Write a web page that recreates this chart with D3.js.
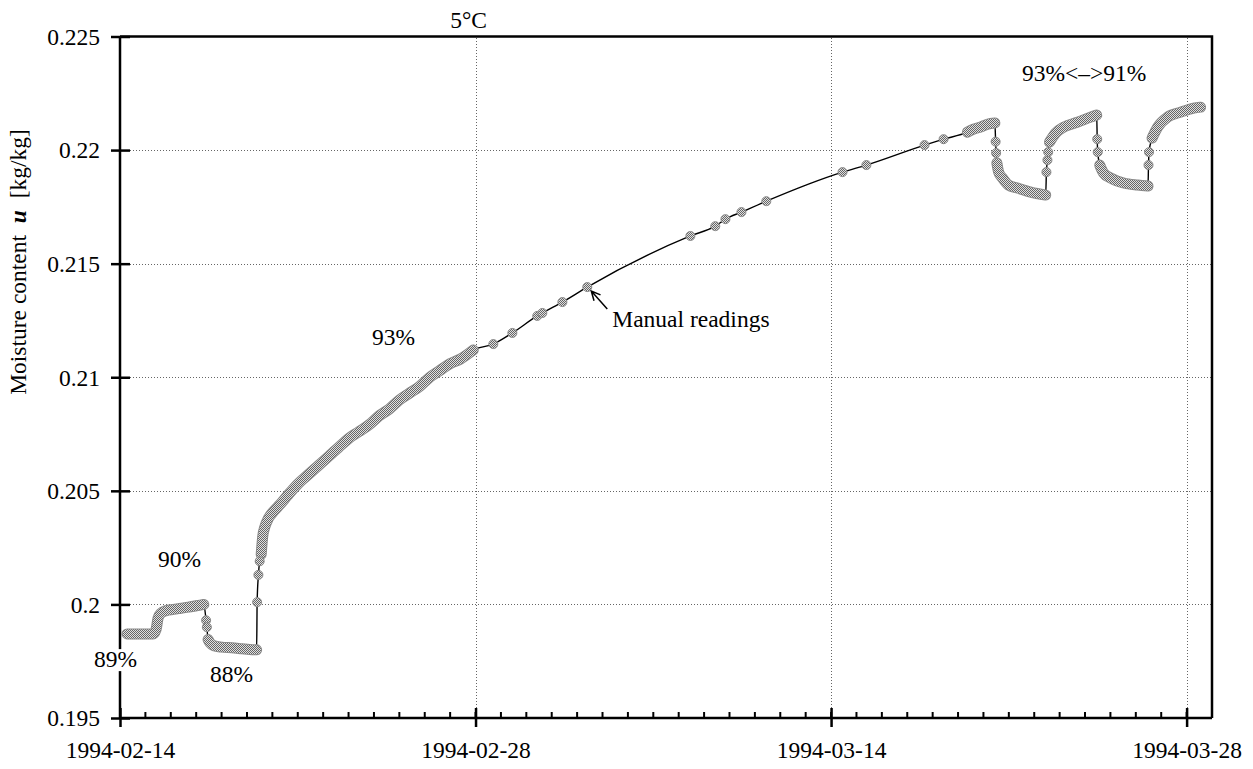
<!DOCTYPE html>
<html><head><meta charset="utf-8">
<script src="https://cdn.jsdelivr.net/npm/d3@7"></script>
<style>body{margin:0;background:#fff}svg{display:block}</style>
</head><body>
<svg id="chart" width="1253" height="769"></svg>
<script>
// ---- data (day offset from 1994-02-14, moisture content u in kg/kg) ----
const startDate = Date.UTC(1994, 1, 14);
const endDate = Date.UTC(1994, 2, 29);
const yTicks = [0.195, 0.2, 0.205, 0.21, 0.215, 0.22, 0.225];
const xTickLabels = ["1994-02-14", "1994-02-28", "1994-03-14", "1994-03-28"];
const gridU = [0.2, 0.205, 0.21, 0.215, 0.22];
const gridDates = ["1994-02-28", "1994-03-14", "1994-03-28"];

const run89to90 = [[0.28,0.1987],[0.6,0.1987],[0.95,0.1987],[1.3,0.1987],[1.42,0.1989],[1.5,0.1994],[1.6,0.1996],[1.8,0.19972],[2.1,0.19978],[2.4,0.19983],[2.7,0.19988],[3.0,0.19994],[3.3,0.2000]];
const run88 = [[3.47,0.19845],[3.55,0.1983],[3.7,0.19818],[4.0,0.19812],[4.4,0.19809],[4.8,0.19805],[5.1,0.19802],[5.38,0.1980]];
const run93 = [[5.56,0.2022],[5.62,0.2030],[5.7,0.2034],[5.85,0.2038],[6.05,0.2041],[6.3,0.2044],[6.6,0.2048],[7.0,0.2053],[7.4,0.2057],[7.8,0.2061],[8.2,0.2065],[8.6,0.2069],[9.0,0.2073],[9.4,0.2076],[9.8,0.2079],[10.2,0.2083],[10.6,0.2086],[11.0,0.2090],[11.4,0.2093],[11.8,0.2096],[12.2,0.2100],[12.6,0.2103],[13.0,0.2106],[13.4,0.2108],[13.91,0.2112]];
const runHigh0 = [[33.37,0.22079],[33.61,0.22092],[33.88,0.22101],[34.16,0.22114],[34.45,0.22119]];
const runLow1 = [[34.53,0.21943],[34.6,0.21903],[34.75,0.21877],[34.99,0.21846],[35.34,0.21833],[35.86,0.21815],[36.45,0.21802]];
const runHigh1 = [[36.6,0.22035],[36.84,0.22075],[37.16,0.22101],[37.71,0.22123],[38.22,0.22145],[38.46,0.22154]];
const runLow2 = [[38.58,0.21934],[38.73,0.21899],[39.01,0.21877],[39.52,0.21855],[40.07,0.21846],[40.48,0.21842]];
const runHigh2 = [[40.64,0.22053],[40.86,0.22101],[41.25,0.22145],[41.77,0.22167],[42.28,0.22185],[42.55,0.22189]];
const transitionPoints = [[3.39,0.1993],[3.42,0.1990],[5.40,0.2001],[5.45,0.2013],[5.5,0.2019],[34.48,0.22037],[34.5,0.21987],[36.48,0.21903],[36.52,0.21956],[36.55,0.21991],[38.48,0.22048],[38.5,0.21991],[40.5,0.21934],[40.52,0.21991]];
const manualReadings = [[14.7,0.21146],[15.45,0.21195],[16.43,0.2127],[16.63,0.21283],[17.42,0.21331],[18.40,0.21397],[22.46,0.21622],[23.44,0.21665],[23.84,0.21696],[24.47,0.21727],[25.45,0.21775],[28.45,0.21903],[29.39,0.21934],[31.68,0.22022],[32.43,0.22048]];

// ---- drawing ----
const FONT = "'Liberation Serif','Times New Roman',serif";
const svg = d3.select("#chart");
const t = d => new Date(startDate + d * 864e5);
const parse = d3.utcParse("%Y-%m-%d");
const x = d3.scaleUtc().domain([new Date(startDate), new Date(endDate)]).range([120, 1212]);
const y = d3.scaleLinear().domain([0.195, 0.225]).range([718, 36.5]);

const defs = svg.append("defs");
const pat = defs.append("pattern").attr("id", "stip").attr("width", 2).attr("height", 2).attr("patternUnits", "userSpaceOnUse");
pat.append("rect").attr("width", 2).attr("height", 2).attr("fill", "#e0e0e0");
pat.append("rect").attr("width", 1).attr("height", 1).attr("fill", "#666");
pat.append("rect").attr("x", 1).attr("y", 1).attr("width", 1).attr("height", 1).attr("fill", "#666");

// grid
const grid = svg.append("g").attr("stroke", "#666").attr("stroke-width", 1).attr("stroke-dasharray", "1,2");
grid.selectAll("line.h").data(gridU).join("line").attr("class", "h")
  .attr("x1", 121).attr("x2", 1211).attr("y1", d => Math.round(y(d)) + 0.5).attr("y2", d => Math.round(y(d)) + 0.5);
grid.selectAll("line.v").data(gridDates).join("line").attr("class", "v")
  .attr("y1", 38).attr("y2", 717).attr("x1", d => Math.round(x(parse(d))) + 0.5).attr("x2", d => Math.round(x(parse(d))) + 0.5);

// black line through all readings
const runs = [run89to90, run88, run93, runHigh0, runLow1, runHigh1, runLow2, runHigh2];
const all = [].concat(...runs, transitionPoints, manualReadings).sort((a, b) => a[0] - b[0]);
const line = d3.line().x(d => x(t(d[0]))).y(d => y(d[1])).curve(d3.curveMonotoneX);
svg.append("path").attr("d", line(all)).attr("fill", "none").attr("stroke", "#000").attr("stroke-width", 1.4);

// dense logged readings (overlapping markers form a band)
const bands = svg.append("g").attr("fill", "none").attr("stroke-linecap", "round").attr("stroke-linejoin", "round");
bands.selectAll("path.o").data(runs).join("path").attr("class", "o").attr("d", line).attr("stroke", "#8a8a8a").attr("stroke-width", 11);
bands.selectAll("path.i").data(runs).join("path").attr("class", "i").attr("d", line).attr("stroke", "url(#stip)").attr("stroke-width", 9);

// sparse markers
svg.append("g").selectAll("circle").data(transitionPoints.concat(manualReadings)).join("circle")
  .attr("cx", d => x(t(d[0]))).attr("cy", d => y(d[1])).attr("r", 4.5)
  .attr("fill", "url(#stip)").attr("stroke", "#8a8a8a").attr("stroke-width", 1);

// axes
const yAxis = svg.append("g").attr("transform", "translate(120,0)")
  .call(d3.axisLeft(y).tickValues(yTicks).tickFormat(d => String(+d.toFixed(3))).tickSizeOuter(0));
yAxis.select(".domain").attr("stroke-width", 2.5).attr("d", "M0,36.5V718");
yAxis.selectAll(".tick line").attr("x1", 10).attr("x2", -9).attr("stroke-width", 2.5);
yAxis.selectAll(".tick text").attr("x", -20).attr("dy", "0.33em").style("font-family", FONT).style("font-size", "23.5px").attr("fill", "#000");

const xAxis = svg.append("g").attr("transform", "translate(0,718)")
  .call(d3.axisBottom(x).tickValues(xTickLabels.map(parse)).tickFormat(d3.utcFormat("%Y-%m-%d")).tickSizeOuter(0));
xAxis.select(".domain").attr("stroke-width", 2.5).attr("d", "M120,0H1212");
xAxis.selectAll(".tick line").attr("y1", -10).attr("y2", 9).attr("stroke-width", 2.5);
xAxis.selectAll(".tick text").attr("y", 40).attr("dy", "0").style("font-family", FONT).style("font-size", "23.5px").attr("fill", "#000");
xAxis.append("g").selectAll("line").data(d3.utcDay.range(new Date(startDate), new Date(endDate)))
  .join("line").attr("x1", d => x(d)).attr("x2", d => x(d)).attr("y1", 0).attr("y2", -6).attr("stroke", "#000").attr("stroke-width", 2);

// frame top & right
svg.append("path").attr("d", "M120,36.5H1212V718").attr("fill", "none").attr("stroke", "#000").attr("stroke-width", 2.5);

// annotations
const txt = (s, px, py) => svg.append("text").attr("x", px).attr("y", py).text(s)
  .style("font-family", FONT).style("font-size", "23.5px").attr("fill", "#000");
txt("5°C", x(t(13.0)), 28);
txt("90%", x(t(1.5)), y(0.20165));
txt("88%", x(t(3.54)), y(0.19658));
const l89 = txt("89%", x(t(-1.02)), y(0.19724));
const bb = l89.node().getBBox();
svg.insert("rect", () => l89.node()).attr("x", bb.x).attr("y", bb.y + 3).attr("width", bb.width).attr("height", bb.height - 4).attr("fill", "#fff");
txt("93%", x(t(9.92)), y(0.21142));
txt("93%<\u2013>91%", x(t(35.52)), y(0.22304));

// manual readings arrow
const target = manualReadings[5];
const px = x(t(target[0])), py = y(target[1]);
const hx = px + 4, hy = py + 4, tx = px + 20, ty = py + 22;
const ang = Math.atan2(hy - ty, hx - tx);
const ah = 10, spread = 0.45;
svg.append("path")
  .attr("d", `M${tx},${ty}L${hx},${hy}M${hx - ah * Math.cos(ang - spread)},${hy - ah * Math.sin(ang - spread)}L${hx},${hy}L${hx - ah * Math.cos(ang + spread)},${hy - ah * Math.sin(ang + spread)}`)
  .attr("fill", "none").attr("stroke", "#000").attr("stroke-width", 1.5);
txt("Manual readings", tx + 5, ty + 18);

// y-axis title
const yl = svg.append("text").attr("transform", "translate(26,262) rotate(-90)").attr("text-anchor", "middle")
  .style("font-family", FONT).style("font-size", "23.5px").attr("fill", "#000").attr("xml:space", "preserve");
yl.append("tspan").text("Moisture content  ");
yl.append("tspan").text("u").style("font-weight", "bold").style("font-style", "italic");
yl.append("tspan").text("  [kg/kg]");
</script>
</body></html>
